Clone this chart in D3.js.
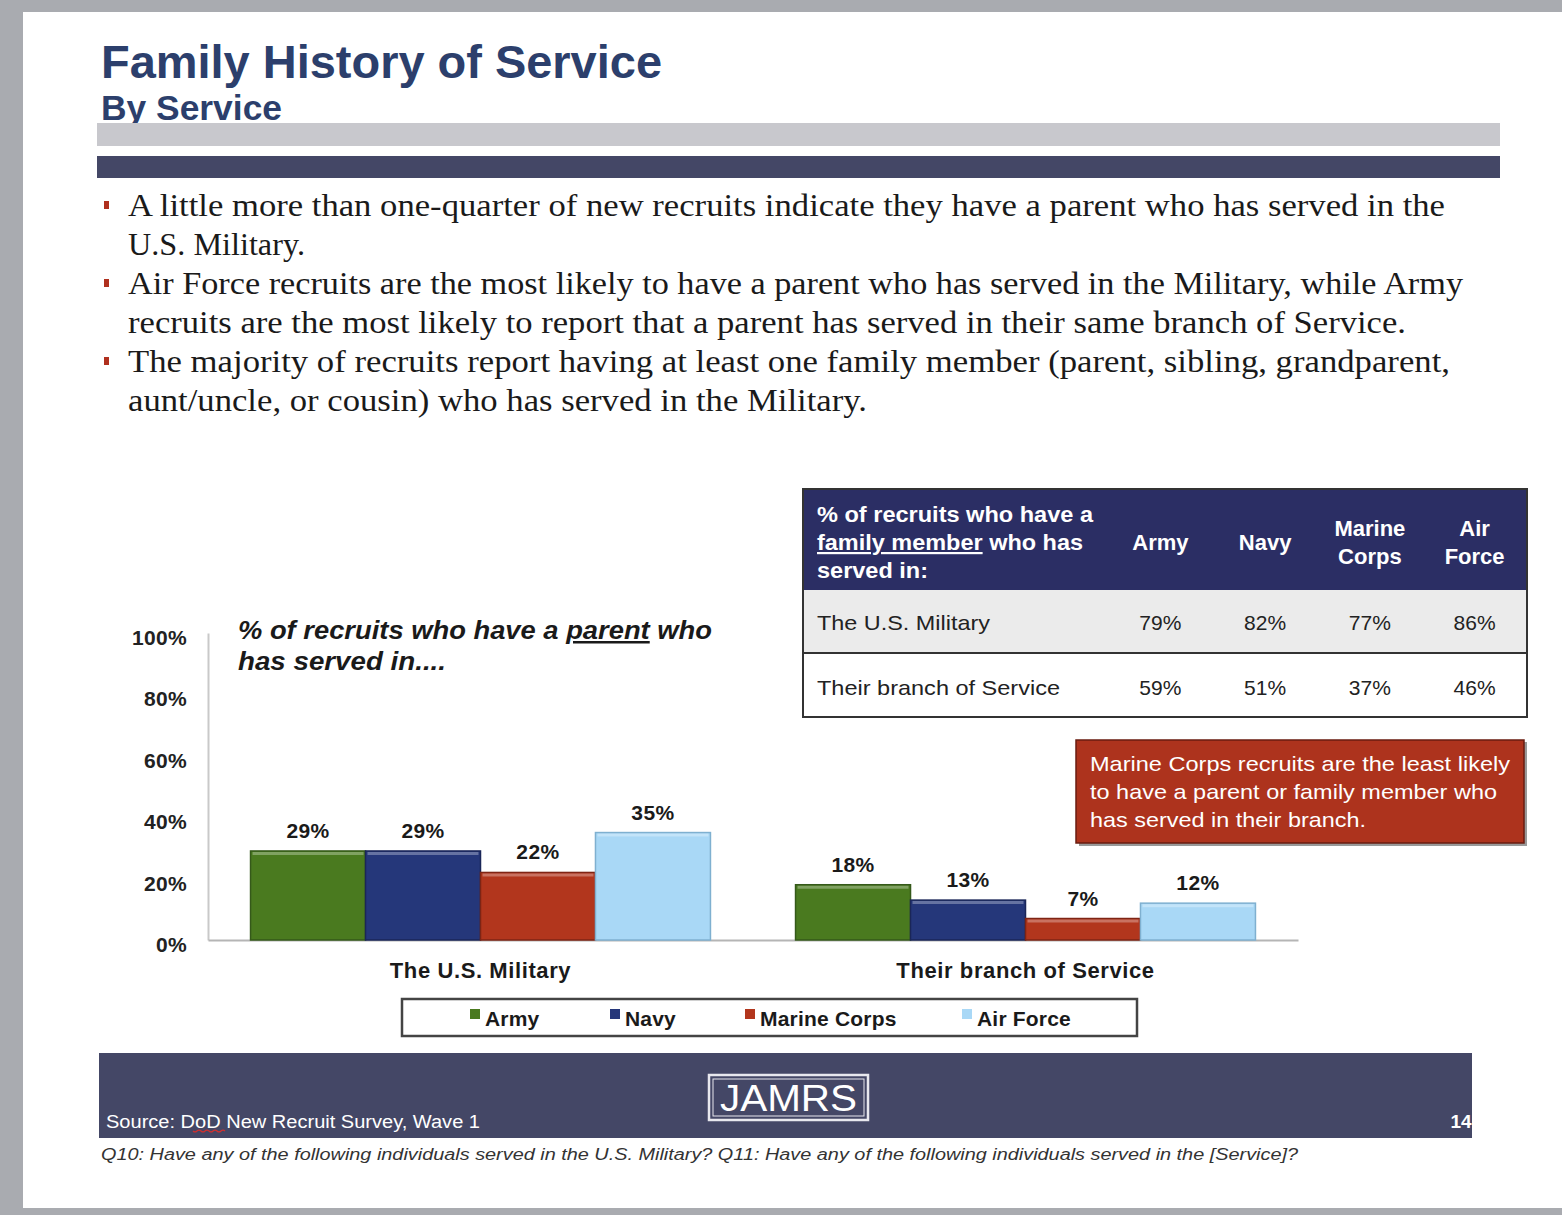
<!DOCTYPE html>
<html>
<head>
<meta charset="utf-8">
<script src="https://cdn.jsdelivr.net/npm/d3@7"></script>
<style>
  body { margin: 0; background: #fff; }
  svg { display: block; }
</style>
</head>
<body>
<div id="slide"></div>
<script>
(function(){
    /* data */
    const groups = ['The U.S. Military', 'Their branch of Service'];
    const services = ['Army', 'Navy', 'Marine Corps', 'Air Force'];
    const parentMilitary = [29, 29, 22, 35];
    const parentBranch = [18, 13, 7, 12];
    const yTicks = [0, 20, 40, 60, 80, 100];
    const tableCols = ['Army', 'Navy', 'Marine\nCorps', 'Air\nForce'];
    const tableRows = ['The U.S. Military', 'Their branch of Service'];
    const familyMilitary = [79, 82, 77, 86];
    const familyBranch = [59, 51, 37, 46];
    const bullets = [
      ['A little more than one-quarter of new recruits indicate they have a parent who has served in the', 'U.S. Military.'],
      ['Air Force recruits are the most likely to have a parent who has served in the Military, while Army', 'recruits are the most likely to report that a parent has served in their same branch of Service.'],
      ['The majority of recruits report having at least one family member (parent, sibling, grandparent,', 'aunt/uncle, or cousin) who has served in the Military.']
    ];
    // right edges of each bullet line
    const bulletEnds = [[1445, 305], [1463, 1406], [1450, 867]];

    const colors = ['#4a7a1f', '#25377a', '#b2361d', '#a9d8f6'];
    const strokes = ['#35591a', '#1a2658', '#7e2414', '#7fb0d0'];
    const SANS = "'Liberation Sans', Arial, sans-serif";
    const SERIF = "'Liberation Serif', 'Times New Roman', serif";

    // stretch a text element so it spans a given width
    const fit = (sel, w) => sel.attr('textLength', w).attr('lengthAdjust', 'spacingAndGlyphs');

    const svg = d3.select('#slide').append('svg')
      .attr('width', 1562).attr('height', 1215)
      .attr('font-family', SANS);

    // slide frame
    svg.append('rect').attr('x', 0).attr('y', 0).attr('width', 1562).attr('height', 1215).attr('fill', '#a9abb0');
    svg.append('rect').attr('x', 23).attr('y', 12).attr('width', 1539).attr('height', 1196).attr('fill', '#fff');

    // title
    fit(svg.append('text').attr('x', 101).attr('y', 78)
      .attr('font-size', 47).attr('font-weight', 'bold').attr('fill', '#2c3f6c')
      .text('Family History of Service'), 561);
    fit(svg.append('text').attr('x', 101).attr('y', 120)
      .attr('font-size', 35).attr('font-weight', 'bold').attr('fill', '#2c3f6c')
      .text('By Service'), 181);
    svg.append('rect').attr('x', 97).attr('y', 123).attr('width', 1403).attr('height', 23).attr('fill', '#c8c8cd');
    svg.append('rect').attr('x', 97).attr('y', 156).attr('width', 1403).attr('height', 22).attr('fill', '#444766');

    // bullets
    const bg = svg.append('g');
    let line = 0;
    bullets.forEach((b, i) => {
      bg.append('rect').attr('x', 104).attr('y', 201 + line * 39).attr('width', 5).attr('height', 8).attr('fill', '#b0301e');
      b.forEach((txt, j) => {
        fit(bg.append('text')
          .attr('x', 128).attr('y', 216 + line * 39)
          .attr('font-family', SERIF).attr('font-size', 31).attr('fill', '#1a1a1a')
          .text(txt), bulletEnds[i][j] - 128);
        line++;
      });
    });

    // bar chart
    const x0 = d3.scaleBand().domain(groups).range([208, 1298]).padding(0);
    const x1 = d3.scaleBand().domain(services).range([0, x0.bandwidth()]).paddingInner(0).paddingOuter(0.37);
    const y = d3.scaleLinear().domain([0, 100]).range([940, 633]);

    const yAxis = svg.append('g').attr('transform', 'translate(208,0)')
      .call(d3.axisLeft(y).tickValues(yTicks).tickSize(0).tickPadding(21).tickFormat(d => d + '%'));
    yAxis.select('.domain').attr('stroke', '#c9c9c9').attr('stroke-width', 2);
    yAxis.selectAll('text').attr('font-family', SANS).attr('font-size', 21).attr('font-weight', 'bold')
      .attr('fill', '#222').attr('dy', '0.55em').attr('letter-spacing', 0.3);

    const xAxis = svg.append('g').attr('transform', 'translate(0,940)')
      .call(d3.axisBottom(x0).tickSize(0).tickPadding(22));
    xAxis.select('.domain').attr('stroke', '#b5b5b5').attr('stroke-width', 2);
    xAxis.selectAll('text').attr('font-family', SANS).attr('font-size', 22).attr('font-weight', 'bold')
      .attr('fill', '#1a1a1a').attr('letter-spacing', 0.6);

    const rows = [parentMilitary, parentBranch];
    const gg = svg.selectAll('.grp').data(groups).join('g')
      .attr('class', 'grp')
      .attr('transform', d => `translate(${x0(d)},0)`);
    gg.each(function(g, gi){
      const vals = rows[gi].map((v, i) => ({s: services[i], v: v, i: i}));
      const sel = d3.select(this);
      sel.selectAll('rect').data(vals).join('rect')
        .attr('x', d => x1(d.s)).attr('y', d => y(d.v))
        .attr('width', x1.bandwidth()).attr('height', d => y(0) - y(d.v))
        .attr('fill', d => colors[d.i]).attr('stroke', d => strokes[d.i]).attr('stroke-width', 1.5);
      sel.selectAll('line.hl').data(vals).join('line').attr('class', 'hl')
        .attr('x1', d => x1(d.s) + 2).attr('x2', d => x1(d.s) + x1.bandwidth() - 2)
        .attr('y1', d => y(d.v) + 2.5).attr('y2', d => y(d.v) + 2.5)
        .attr('stroke', '#fff').attr('stroke-opacity', 0.3).attr('stroke-width', 3);
      sel.selectAll('text.val').data(vals).join('text').attr('class', 'val')
        .attr('x', d => x1(d.s) + x1.bandwidth() / 2).attr('y', d => y(d.v) - 13)
        .attr('text-anchor', 'middle').attr('font-size', 21).attr('font-weight', 'bold').attr('fill', '#1a1a1a')
        .attr('letter-spacing', 0.4)
        .text(d => d.v + '%');
    });

    // chart caption
    const cap = svg.append('text').attr('x', 238).attr('y', 639)
      .attr('font-size', 25).attr('font-weight', 'bold').attr('font-style', 'italic').attr('fill', '#1a1a1a');
    cap.append('tspan').text('% of recruits who have a ');
    cap.append('tspan').attr('text-decoration', 'underline').text('parent');
    cap.append('tspan').text(' who');
    fit(cap, 474);
    fit(svg.append('text').attr('x', 238).attr('y', 670)
      .attr('font-size', 25).attr('font-weight', 'bold').attr('font-style', 'italic').attr('fill', '#1a1a1a')
      .text('has served in....'), 208);

    // legend
    svg.append('rect').attr('x', 402).attr('y', 999).attr('width', 735).attr('height', 37)
      .attr('fill', '#fff').attr('stroke', '#444').attr('stroke-width', 2.5);
    const legendX = [470, 610, 745, 962];
    const lg = svg.selectAll('.leg').data(services).join('g').attr('class', 'leg')
      .attr('transform', (d, i) => `translate(${legendX[i]},1018)`);
    lg.append('rect').attr('x', 0).attr('y', -9).attr('width', 10).attr('height', 10)
      .attr('fill', (d, i) => colors[i]);
    lg.append('text').attr('x', 15).attr('y', 8)
      .attr('font-size', 21).attr('font-weight', 'bold').attr('fill', '#1a1a1a').attr('letter-spacing', 0.2)
      .text(d => d);

    // family member table
    const tb = svg.append('g');
    const tx = 803, tw = 724, ty = 489;
    tb.append('rect').attr('x', tx).attr('y', ty).attr('width', tw).attr('height', 101).attr('fill', '#2b2e64');
    tb.append('rect').attr('x', tx).attr('y', 590).attr('width', tw).attr('height', 63).attr('fill', '#ebebeb');
    tb.append('rect').attr('x', tx).attr('y', 653).attr('width', tw).attr('height', 64).attr('fill', '#fff');
    tb.append('line').attr('x1', tx).attr('x2', tx + tw).attr('y1', 653).attr('y2', 653).attr('stroke', '#333').attr('stroke-width', 2);
    tb.append('rect').attr('x', tx).attr('y', ty).attr('width', tw).attr('height', 228)
      .attr('fill', 'none').attr('stroke', '#333').attr('stroke-width', 2);

    fit(tb.append('text').attr('x', 817).attr('y', 522).attr('font-size', 22).attr('font-weight', 'bold').attr('fill', '#fff')
      .text('% of recruits who have a'), 276);
    const h2 = tb.append('text').attr('x', 817).attr('y', 550).attr('font-size', 22).attr('font-weight', 'bold').attr('fill', '#fff');
    h2.append('tspan').attr('text-decoration', 'underline').text('family member');
    h2.append('tspan').text(' who has');
    fit(h2, 266);
    fit(tb.append('text').attr('x', 817).attr('y', 578).attr('font-size', 22).attr('font-weight', 'bold').attr('fill', '#fff')
      .text('served in:'), 111);

    const tc = d3.scaleBand().domain(tableCols).range([1108, 1527]);
    tableCols.forEach(c => {
      const parts = c.split('\n');
      const t = tb.append('text').attr('text-anchor', 'middle')
        .attr('font-size', 22).attr('font-weight', 'bold').attr('fill', '#fff');
      parts.forEach((p, k) => {
        t.append('tspan').attr('x', tc(c) + tc.bandwidth() / 2)
          .attr('y', (parts.length === 1 ? 550 : 536) + k * 28).text(p);
      });
    });
    const trows = [familyMilitary, familyBranch];
    const rowY = [630, 695];
    const rowW = [173, 243];
    tableRows.forEach((r, ri) => {
      fit(tb.append('text').attr('x', 817).attr('y', rowY[ri]).attr('font-size', 21).attr('fill', '#222').text(r), rowW[ri]);
      tb.selectAll('text.r' + ri).data(trows[ri]).join('text').attr('class', 'r' + ri)
        .attr('x', (d, i) => tc(tableCols[i]) + tc.bandwidth() / 2).attr('y', rowY[ri])
        .attr('text-anchor', 'middle').attr('font-size', 21).attr('fill', '#222')
        .text(d => d + '%');
    });

    // callout
    svg.append('rect').attr('x', 1079).attr('y', 742).attr('width', 448).attr('height', 104)
      .attr('fill', '#333').attr('opacity', 0.5);
    svg.append('rect').attr('x', 1076).attr('y', 740).attr('width', 448).attr('height', 103)
      .attr('fill', '#ad331d').attr('stroke', '#6a1d10').attr('stroke-width', 1.5);
    const calloutLines = ['Marine Corps recruits are the least likely', 'to have a parent or family member who', 'has served in their branch.'];
    const calloutW = [420, 407, 276];
    calloutLines.forEach((t, i) => {
      fit(svg.append('text').attr('x', 1090).attr('y', 771 + i * 28)
        .attr('font-size', 21).attr('fill', '#fff').text(t), calloutW[i]);
    });

    // footer
    svg.append('rect').attr('x', 99).attr('y', 1053).attr('width', 1373).attr('height', 85).attr('fill', '#444766');
    svg.append('rect').attr('x', 709).attr('y', 1075).attr('width', 159).attr('height', 45)
      .attr('fill', 'none').attr('stroke', '#e8e8ee').attr('stroke-width', 2.5);
    svg.append('rect').attr('x', 713).attr('y', 1079).attr('width', 151).attr('height', 37)
      .attr('fill', 'none').attr('stroke', '#e8e8ee').attr('stroke-width', 1);
    fit(svg.append('text').attr('x', 720).attr('y', 1111)
      .attr('font-size', 36).attr('fill', '#fff').text('JAMRS'), 137);
    const src = svg.append('text').attr('x', 106).attr('y', 1128)
      .attr('font-size', 18).attr('fill', '#fff');
    src.append('tspan').text('Source:  ');
    src.append('tspan').text('DoD');
    src.append('tspan').text(' New Recruit Survey, Wave 1');
    fit(src, 374);
    svg.append('path').attr('d', 'M 193 1131 q 2 2 4 0 t 4 0 t 4 0 t 4 0 t 4 0 t 4 0 t 4 0 t 4 0')
      .attr('fill', 'none').attr('stroke', '#d03030').attr('stroke-width', 1.2);
    svg.append('text').attr('x', 1461).attr('y', 1128).attr('text-anchor', 'middle')
      .attr('font-size', 19).attr('font-weight', 'bold').attr('fill', '#fff').text('14');
    fit(svg.append('text').attr('x', 101).attr('y', 1160)
      .attr('font-size', 16).attr('font-style', 'italic').attr('fill', '#333')
      .text('Q10:  Have any of the following individuals served in the U.S. Military?  Q11:  Have any of the following individuals served in the [Service]?'), 1197);
  })();
</script>
</body>
</html>
